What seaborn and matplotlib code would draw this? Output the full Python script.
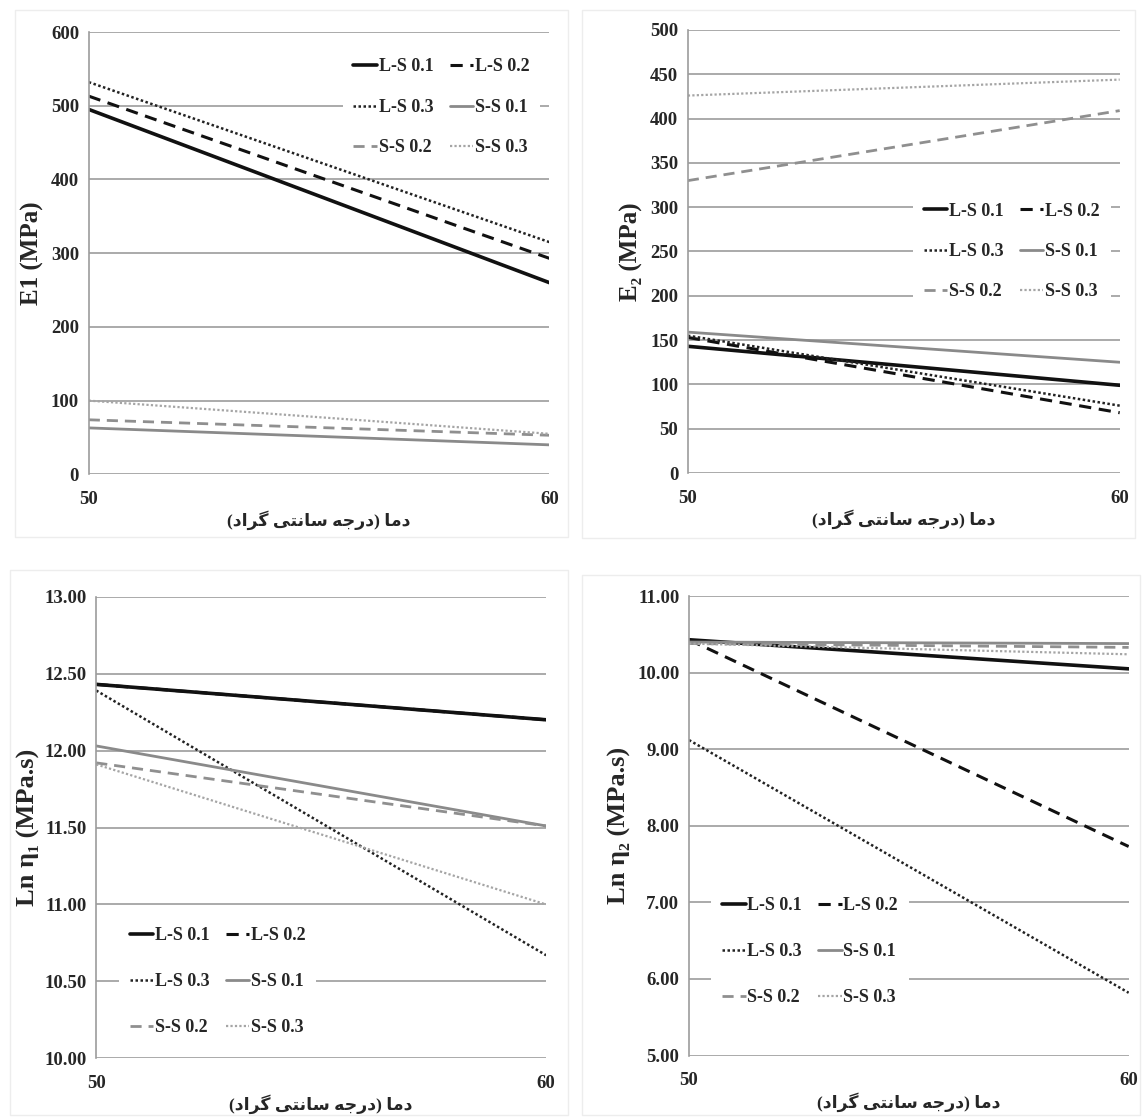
import seaborn as sns
import matplotlib.pyplot as plt
from matplotlib.patches import Rectangle
from matplotlib.ticker import MultipleLocator, FormatStrFormatter

# data (value at 50 and at 60 degrees)
temps = [50, 60]
series = ["L-S 0.1", "L-S 0.2", "L-S 0.3", "S-S 0.1", "S-S 0.2", "S-S 0.3"]

e1 = [[495, 260], [513, 293], [532, 315], [63, 40], [74, 53], [100, 55]]
e2 = [[143, 99], [153, 68], [155, 76], [159, 125], [330, 409], [426, 444]]
ln_eta1 = [[12.43, 12.20], [12.43, 12.20], [12.39, 10.67], [12.03, 11.51], [11.92, 11.51], [11.91, 11.00]]
ln_eta2 = [[10.43, 10.05], [10.43, 7.73], [9.12, 5.82], [10.40, 10.38], [10.38, 10.33], [10.38, 10.24]]

y_labels = ["E1 (MPa)", "E\u2082 (MPa)", "Ln \u03b7\u2081 (MPa.s)", "Ln \u03b7\u2082 (MPa.s)"]
# "دما (درجه سانتی گراد)" in Arabic presentation forms, visual order
# (matplotlib has no bidi/shaping of its own)
x_label = ("(\ufea9\ufe8d\ufeae\ufb94 \ufbfd\ufe98\ufee7\ufe8e\ufeb3 "
           "\ufeea\ufe9f\ufead\ufea9) \ufe8e\ufee3\ufea9")

styles = {
    "L-S 0.1": dict(color="#111111", lw=2.6, dashes=()),
    "L-S 0.2": dict(color="#111111", lw=2.2, dashes=(4, 2.5)),
    "L-S 0.3": dict(color="#222222", lw=1.8, dashes=(1, 1)),
    "S-S 0.1": dict(color="#8a8a8a", lw=2.0, dashes=()),
    "S-S 0.2": dict(color="#8f8f8f", lw=2.0, dashes=(4, 2.5)),
    "S-S 0.3": dict(color="#a5a5a5", lw=1.6, dashes=(1, 1)),
}

sns.set_theme(style="white")
plt.rcParams["font.family"] = ["Liberation Serif", "DejaVu Sans"]
plt.rcParams["font.weight"] = "bold"

fig = plt.figure(figsize=(11.47, 11.19), dpi=100)
fig.patch.set_facecolor("white")

W, H = 1147, 1119
# faint panel frames
for x0, y0, x1, y1 in [(15, 10, 568, 537), (582, 10, 1135, 538),
                       (10, 570, 568, 1115), (582, 575, 1140, 1115)]:
    fig.add_artist(Rectangle((x0 / W, 1 - y1 / H), (x1 - x0) / W, (y1 - y0) / H,
                             transform=fig.transFigure, fill=False,
                             edgecolor="#ededed", lw=1))

panels = [
    dict(rect=[0.0774, 0.5761, 0.4016, 0.3953], data=e1, ylim=(0, 600), step=100, fmt="%d",
         loc="upper right", anchor=(1.0, 0.985), ylabsize=18, spacing=1.3, ylpad=5),
    dict(rect=[0.5997, 0.5773, 0.3765, 0.3959], data=e2, ylim=(0, 500), step=50, fmt="%d",
         loc="center right", anchor=(1.0, 0.5), ylabsize=18, spacing=1.3, ylpad=5),
    dict(rect=[0.0839, 0.0542, 0.3922, 0.4126], data=ln_eta1, ylim=(10, 13), step=0.5, fmt="%.2f",
         loc="lower left", anchor=(0.03, 0.005), ylabsize=19, spacing=1.6, ylpad=3),
    dict(rect=[0.6007, 0.0567, 0.3833, 0.4106], data=ln_eta2, ylim=(5, 11), step=1, fmt="%.2f",
         loc="lower left", anchor=(0.03, 0.065), ylabsize=19, spacing=1.6, ylpad=4),
]

for p, ylab in zip(panels, y_labels):
    ax = fig.add_axes(p["rect"])
    for name, vals in zip(series, p["data"]):
        st = styles[name]
        sns.lineplot(x=temps, y=vals, ax=ax, color=st["color"], lw=st["lw"],
                     dashes=st["dashes"], label=name, legend=False)
    ax.set_xlim(50, 60)
    ax.set_ylim(*p["ylim"])
    ax.set_xticks(temps)
    ax.yaxis.set_major_locator(MultipleLocator(p["step"]))
    ax.yaxis.set_major_formatter(FormatStrFormatter(p["fmt"]))
    ax.grid(axis="y", color="#9c9c9c", lw=1.2)
    ax.set_axisbelow(True)
    for s in ["top", "right", "bottom"]:
        ax.spines[s].set_visible(False)
    ax.spines["left"].set_color("#9c9c9c")
    ax.spines["left"].set_linewidth(1.2)
    ax.tick_params(axis="both", length=0, labelsize=13.5)
    ax.tick_params(axis="x", pad=12)
    ax.tick_params(axis="y", pad=7)
    for t in ax.get_xticklabels() + ax.get_yticklabels():
        t.set_fontweight("bold")
    ax.set_ylabel(ylab, fontsize=p["ylabsize"], fontweight="bold", labelpad=p["ylpad"])
    ax.set_xlabel(x_label, fontsize=12.5, fontweight="bold", labelpad=2)

    handles, labels = ax.get_legend_handles_labels()
    order = [0, 2, 4, 1, 3, 5]  # legend rows read left to right
    leg = ax.legend([handles[i] for i in order], [labels[i] for i in order],
                    ncol=2, loc=p["loc"], bbox_to_anchor=p["anchor"],
                    frameon=True, framealpha=1, facecolor="white", edgecolor="white",
                    handlelength=1.3, handletextpad=0.1, columnspacing=0.9,
                    labelspacing=p["spacing"], borderpad=0.6,
                    prop={"family": "Liberation Serif", "weight": "bold", "size": 13})
    leg.get_frame().set_linewidth(0)

fig.savefig("out.png", dpi=100, facecolor="white")
